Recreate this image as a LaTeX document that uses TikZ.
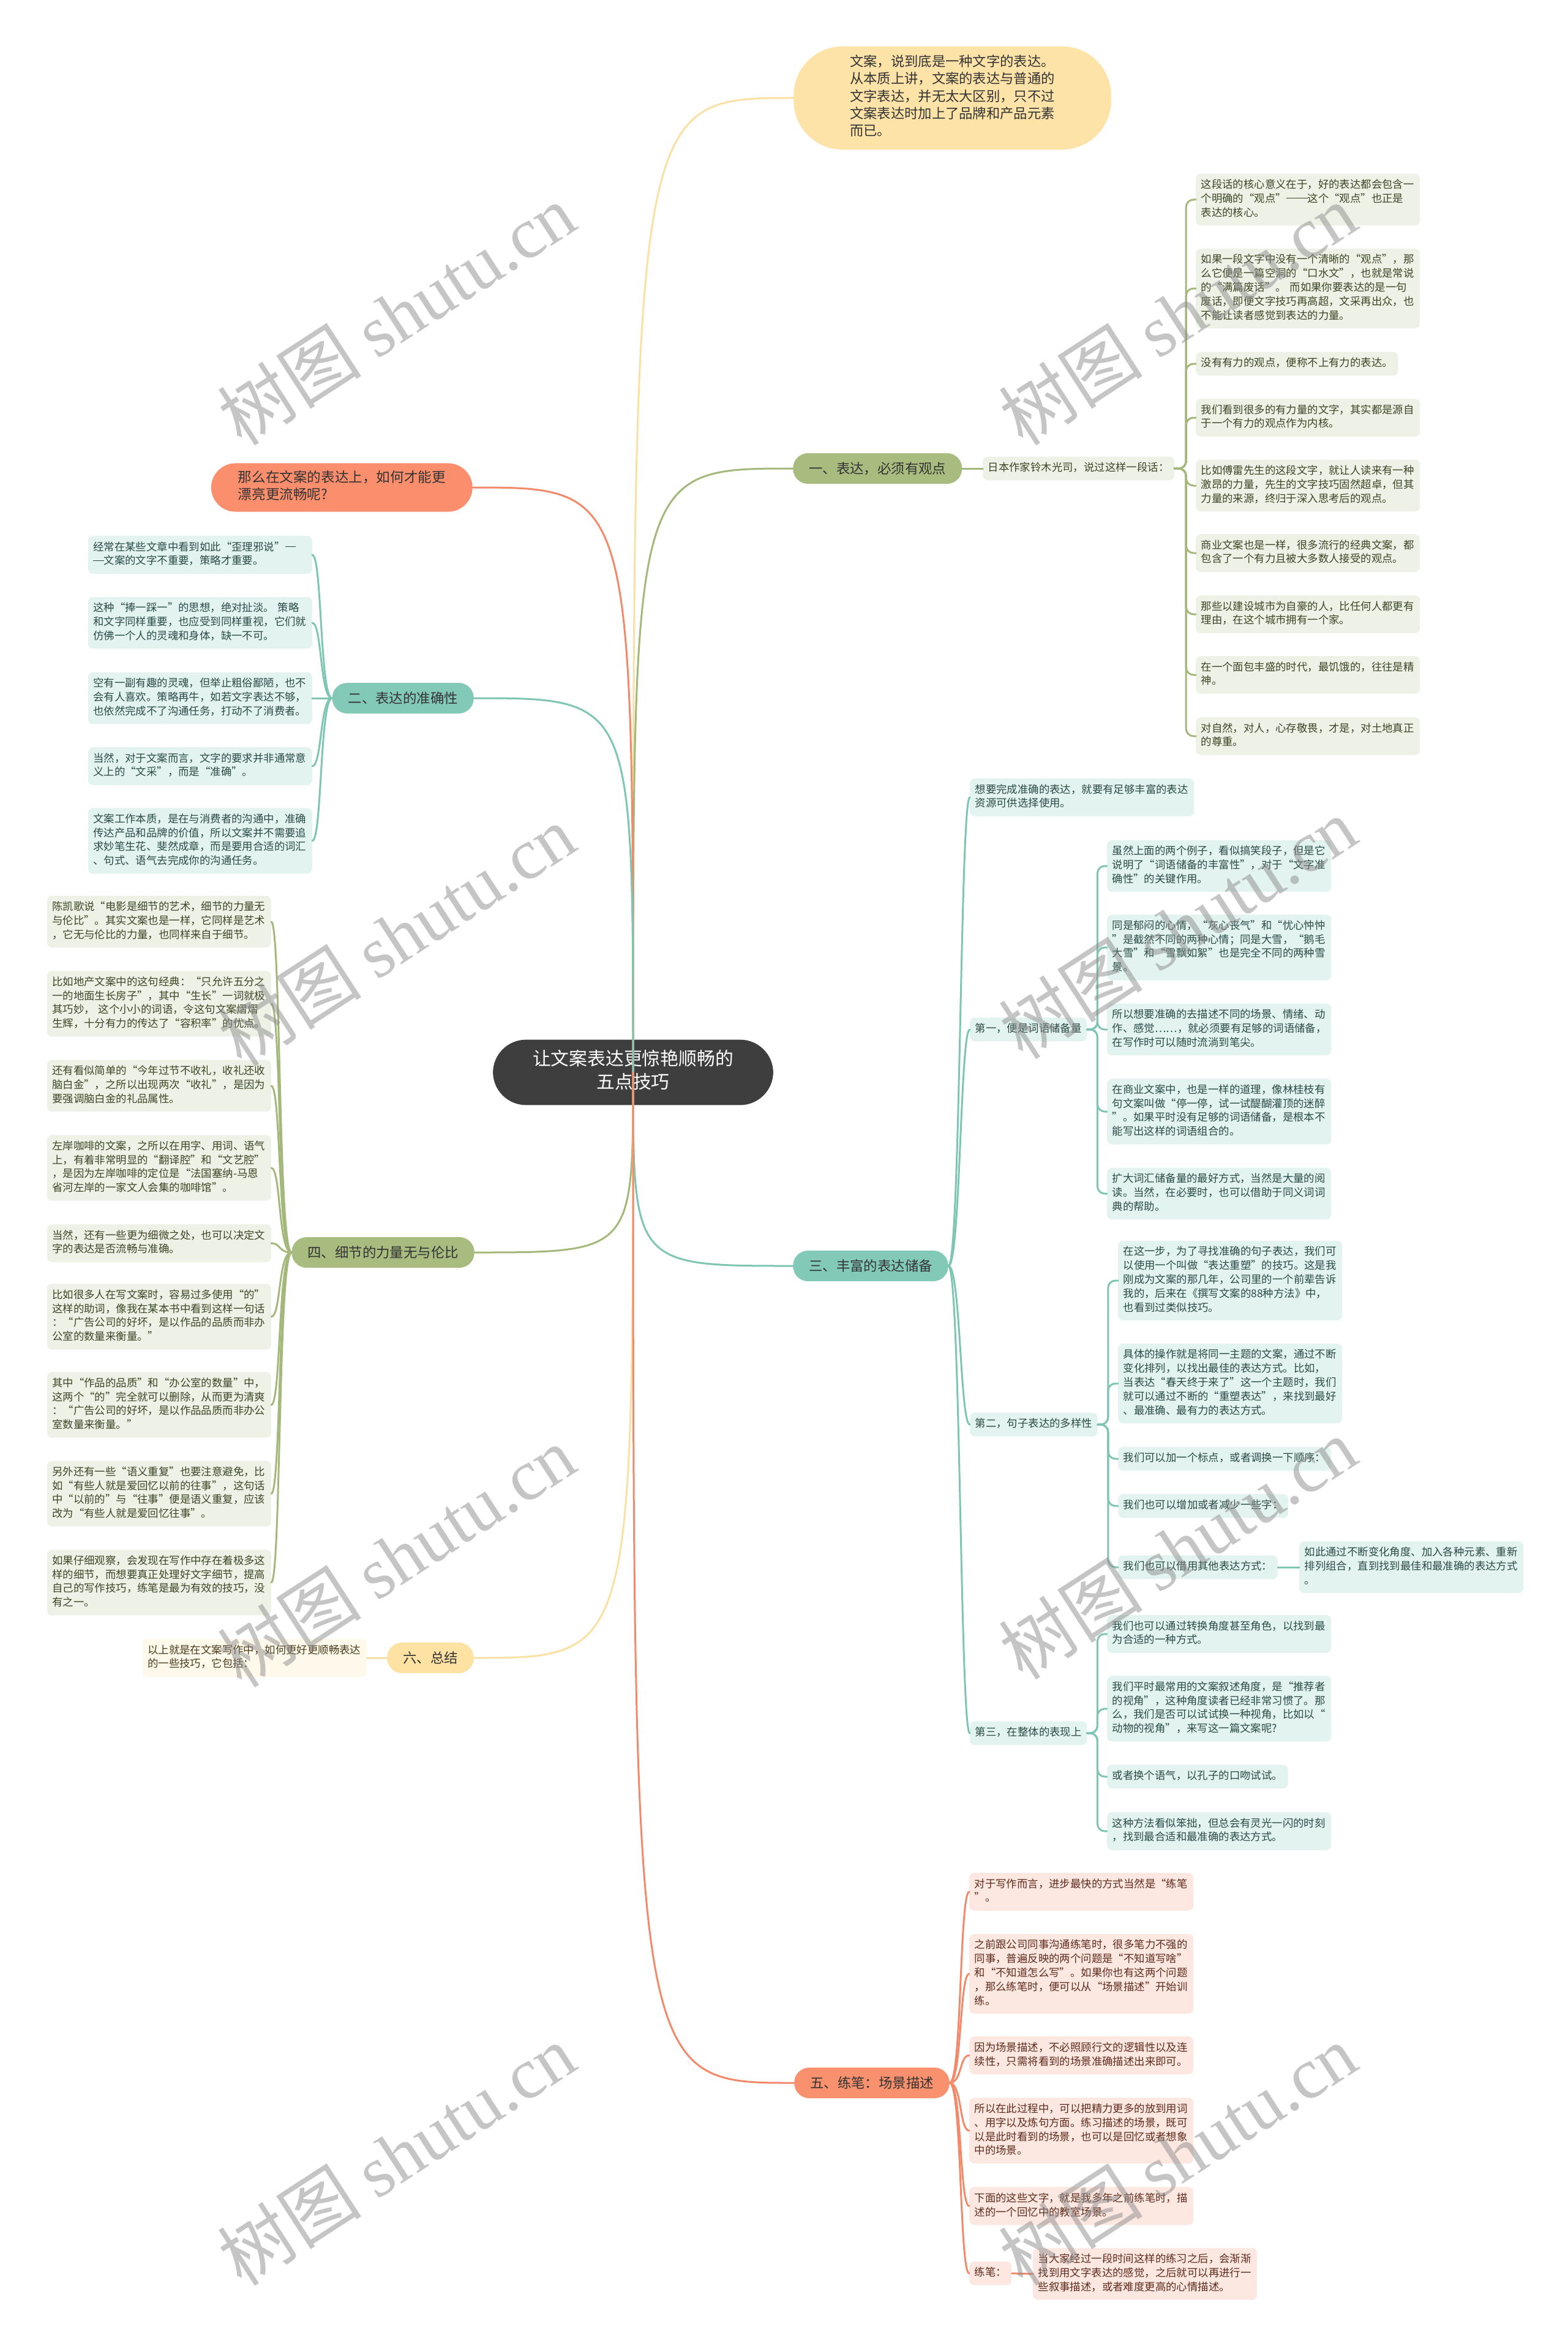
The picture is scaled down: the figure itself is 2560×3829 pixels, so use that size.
\documentclass[tikz,border=0pt]{standalone}
\usepackage{fontspec}
\setmainfont{Noto Sans CJK SC}
\newfontfamily\latf{Noto Sans CJK SC}
\newcommand{\lat}[1]{{\latf #1}}
\newcommand{\qL}{\makebox[1em][r]{“}}
\newcommand{\qR}{\makebox[1em][l]{”}}
\newcommand{\dsh}{\makebox[1em][c]{\rule[0.36em]{1em}{0.06em}}}
\newfontfamily\wmserif{Liberation Serif}
\newfontfamily\wmcjk{Noto Sans CJK SC}
\definecolor{oline}{HTML}{A3B87A}
\definecolor{osec}{HTML}{A8BC80}
\definecolor{olf}{HTML}{EEF1E6}
\definecolor{olt}{HTML}{3C4526}
\definecolor{tline}{HTML}{7EC5B4}
\definecolor{tsec}{HTML}{83C9B8}
\definecolor{tlf}{HTML}{E3F3EF}
\definecolor{tlt}{HTML}{2A4A44}
\definecolor{sline}{HTML}{F2896A}
\definecolor{ssec}{HTML}{F9916F}
\definecolor{slf}{HTML}{FDE8E1}
\definecolor{slt}{HTML}{5E2A1C}
\definecolor{yline}{HTML}{FBE0A3}
\definecolor{ysec}{HTML}{FDE2A4}
\definecolor{ylf}{HTML}{FFF9EC}
\definecolor{ylt}{HTML}{4A3C1C}
\definecolor{rootfill}{HTML}{3E3E3E}
\definecolor{qfill}{HTML}{FB8E6D}
\definecolor{topfill}{HTML}{FDE3A8}
\definecolor{sect}{HTML}{333333}
\begin{document}
\begin{tikzpicture}[x=1pt,y=-1pt,
  leafbase/.style={rounded corners=8pt, inner xsep=8.5pt, inner ysep=8pt, align=left,
    font=\fontsize{17.4pt}{22.8pt}\selectfont, execute at begin node=\strut, execute at end node=\strut},
  oleaf1/.style={leafbase, fill=olf, text=olt},
  tleaf1/.style={leafbase, fill=tlf, text=tlt},
  sleaf1/.style={leafbase, fill=slf, text=slt},
  oleaf/.style={oleaf1, text width=349pt},
  tleaf/.style={tleaf1, text width=349pt},
  sleaf/.style={sleaf1, text width=349pt},
  yleaf/.style={leafbase, fill=ylf, text=ylt, text width=349pt},
  secbase/.style={rounded corners=24.5pt, minimum height=50pt, inner xsep=26pt, inner ysep=0pt,
    font=\fontsize{22.4pt}{28pt}\selectfont, text=sect},
  secO/.style={secbase, fill=osec},
  secT/.style={secbase, fill=tsec},
  secS/.style={secbase, fill=ssec},
  secY/.style={secbase, fill=ysec},
  rootn/.style={rounded corners=54pt, fill=rootfill, text=white, align=center, inner xsep=65pt, inner ysep=16pt,
    font=\fontsize{29.8pt}{38pt}\selectfont, execute at begin node=\strut, execute at end node=\strut},
  topn/.style={rounded corners=80pt, fill=topfill, text=sect, align=left, inner xsep=92pt, inner ysep=14pt,
    font=\fontsize{22.3pt}{28.3pt}\selectfont, execute at begin node=\strut, execute at end node=\strut},
  qn/.style={rounded corners=40pt, fill=qfill, text=sect, align=left, inner xsep=44pt, inner ysep=11.5pt,
    font=\fontsize{22.6pt}{28.5pt}\selectfont, execute at begin node=\strut, execute at end node=\strut},
  cn/.style={line width=3pt, line cap=round},
  elb/.style={cn, rounded corners=12pt},
  wm/.style={rotate=33, text=black!45, text opacity=0.5, inner sep=0pt}
]
\fill[white] (0,0) rectangle (2560,3829);
\useasboundingbox (0,0) rectangle (2560,3829);

% ---------- central and top nodes
\node[rootn] (root) at (1034,1751) {让文案表达更惊艳顺畅的\\五点技巧};
\node[topn, anchor=west] (top) at (1296,160) {文案，说到底是一种文字的表达。\\从本质上讲，文案的表达与普通的\\文字表达，并无太大区别，只不过\\文案表达时加上了品牌和产品元素\\而已。};
\node[qn, anchor=east] (q) at (772,796) {那么在文案的表达上，如何才能更\\漂亮更流畅呢\lat{?}};

% ---------- section 1
\node[secO, anchor=west] (s1) at (1295,765) {一、表达，必须有观点};
\node[oleaf1, anchor=west] (s1c) at (1605,765) {日本作家铃木光司，说过这样一段话：};
\node[oleaf, anchor=west] (a1) at (1953,326) {这段话的核心意义在于，好的表达都会包含一\\个明确的\qL{}观点\qR{}\dsh\dsh{}这个\qL{}观点\qR{}也正是\\表达的核心。};
\node[oleaf, anchor=west] (a2) at (1953,471) {如果一段文字中没有一个清晰的\qL{}观点\qR{}，那\\么它便是一篇空洞的\qL{}口水文\qR{}，也就是常说\\的\qL{}满篇废话\qR{}。 而如果你要表达的是一句\\废话，即便文字技巧再高超，文采再出众，也\\不能让读者感觉到表达的力量。};
\node[oleaf1, anchor=west] (a3) at (1953,594) {没有有力的观点，便称不上有力的表达。};
\node[oleaf, anchor=west] (a4) at (1953,682) {我们看到很多的有力量的文字，其实都是源自\\于一个有力的观点作为内核。};
\node[oleaf, anchor=west] (a5) at (1953,793) {比如傅雷先生的这段文字，就让人读来有一种\\激昂的力量，先生的文字技巧固然超卓，但其\\力量的来源，终归于深入思考后的观点。};
\node[oleaf, anchor=west] (a6) at (1953,903) {商业文案也是一样，很多流行的经典文案，都\\包含了一个有力且被大多数人接受的观点。};
\node[oleaf, anchor=west] (a7) at (1953,1003) {那些以建设城市为自豪的人，比任何人都更有\\理由，在这个城市拥有一个家。};
\node[oleaf, anchor=west] (a8) at (1953,1102) {在一个面包丰盛的时代，最饥饿的，往往是精\\神。};
\node[oleaf, anchor=west] (a9) at (1953,1202) {对自然，对人，心存敬畏，才是，对土地真正\\的尊重。};

% ---------- section 2
\node[secT, anchor=east] (s2) at (774,1140) {二、表达的准确性};
\node[tleaf, anchor=east] (b1) at (510,906) {经常在某些文章中看到如此\qL{}歪理邪说\qR{}\dsh\\\dsh{}文案的文字不重要，策略才重要。};
\node[tleaf, anchor=east] (b2) at (510,1017) {这种\qL{}捧一踩一\qR{}的思想，绝对扯淡。 策略\\和文字同样重要，也应受到同样重视，它们就\\仿佛一个人的灵魂和身体，缺一不可。};
\node[tleaf, anchor=east] (b3) at (510,1140) {空有一副有趣的灵魂，但举止粗俗鄙陋，也不\\会有人喜欢。策略再牛，如若文字表达不够，\\也依然完成不了沟通任务，打动不了消费者。};
\node[tleaf, anchor=east] (b4) at (510,1251) {当然，对于文案而言，文字的要求并非通常意\\义上的\qL{}文采\qR{}，而是\qL{}准确\qR{}。};
\node[tleaf, anchor=east] (b5) at (510,1373) {文案工作本质，是在与消费者的沟通中，准确\\传达产品和品牌的价值，所以文案并不需要追\\求妙笔生花、斐然成章，而是要用合适的词汇\\、句式、语气去完成你的沟通任务。};

% ---------- section 4
\node[secO, anchor=east] (s4) at (775,2045) {四、细节的力量无与伦比};
\node[oleaf, anchor=east] (d1) at (443,1505) {陈凯歌说\qL{}电影是细节的艺术，细节的力量无\\与伦比\qR{}。其实文案也是一样，它同样是艺术\\，它无与伦比的力量，也同样来自于细节。};
\node[oleaf, anchor=east] (d2) at (443,1639) {比如地产文案中的这句经典：\qL{}只允许五分之\\一的地面生长房子\qR{}，其中\qL{}生长\qR{}一词就极\\其巧妙， 这个小小的词语，令这句文案熠熠\\生辉，十分有力的传达了\qL{}容积率\qR{}的优点。};
\node[oleaf, anchor=east] (d3) at (443,1773) {还有看似简单的\qL{}今年过节不收礼，收礼还收\\脑白金\qR{}，之所以出现两次\qL{}收礼\qR{}，是因为\\要强调脑白金的礼品属性。};
\node[oleaf, anchor=east] (d4) at (443,1907) {左岸咖啡的文案，之所以在用字、用词、语气\\上，有着非常明显的\qL{}翻译腔\qR{}和\qL{}文艺腔\qR{}\\，是因为左岸咖啡的定位是\qL{}法国塞纳\lat{-}马恩\\省河左岸的一家文人会集的咖啡馆\qR{}。};
\node[oleaf, anchor=east] (d5) at (443,2030) {当然，还有一些更为细微之处，也可以决定文\\字的表达是否流畅与准确。};
\node[oleaf, anchor=east] (d6) at (443,2150) {比如很多人在写文案时，容易过多使用\qL{}的\qR{}\\这样的助词，像我在某本书中看到这样一句话\\：\qL{}广告公司的好坏，是以作品的品质而非办\\公室的数量来衡量。\qR{}};
\node[oleaf, anchor=east] (d7) at (443,2294) {其中\qL{}作品的品质\qR{}和\qL{}办公室的数量\qR{}中，\\这两个\qL{}的\qR{}完全就可以删除，从而更为清爽\\：\qL{}广告公司的好坏，是以作品品质而非办公\\室数量来衡量。\qR{}};
\node[oleaf, anchor=east] (d8) at (443,2439) {另外还有一些\qL{}语义重复\qR{}也要注意避免，比\\如\qL{}有些人就是爱回忆以前的往事\qR{}，这句话\\中\qL{}以前的\qR{}与\qL{}往事\qR{}便是语义重复，应该\\改为\qL{}有些人就是爱回忆往事\qR{}。};
\node[oleaf, anchor=east] (d9) at (443,2584) {如果仔细观察，会发现在写作中存在着极多这\\样的细节，而想要真正处理好文字细节，提高\\自己的写作技巧，练笔是最为有效的技巧，没\\有之一。};

% ---------- section 6
\node[secY, anchor=east] (s6) at (774,2707) {六、总结};
\node[yleaf, anchor=east] (f1) at (599,2707) {以上就是在文案写作中，如何更好更顺畅表达\\的一些技巧，它包括：};

% ---------- section 3
\node[secT, anchor=west] (s3) at (1295,2067) {三、丰富的表达储备};
\node[tleaf, anchor=west] (c0) at (1584,1302) {想要完成准确的表达，就要有足够丰富的表达\\资源可供选择使用。};
\node[tleaf1, anchor=west] (cb) at (1584,1681) {第一，便是词语储备量};
\node[tleaf, anchor=west] (cb1) at (1808,1414) {虽然上面的两个例子，看似搞笑段子，但是它\\说明了\qL{}词语储备的丰富性\qR{}，对于\qL{}文字准\\确性\qR{}的关键作用。};
\node[tleaf, anchor=west] (cb2) at (1808,1547) {同是郁闷的心情，\qL{}灰心丧气\qR{}和\qL{}忧心忡忡\\\qR{}是截然不同的两种心情；同是大雪，\qL{}鹅毛\\大雪\qR{}和\qL{}雪飘如絮\qR{}也是完全不同的两种雪\\景。};
\node[tleaf, anchor=west] (cb3) at (1808,1681) {所以想要准确的去描述不同的场景、情绪、动\\作、感觉……，就必须要有足够的词语储备，\\在写作时可以随时流淌到笔尖。};
\node[tleaf, anchor=west] (cb4) at (1808,1815) {在商业文案中，也是一样的道理，像林桂枝有\\句文案叫做\qL{}停一停，试一试醍醐灌顶的迷醉\\\qR{}。如果平时没有足够的词语储备，是根本不\\能写出这样的词语组合的。};
\node[tleaf, anchor=west] (cb5) at (1808,1949) {扩大词汇储备量的最好方式，当然是大量的阅\\读。当然，在必要时，也可以借助于同义词词\\典的帮助。};
\node[tleaf1, anchor=west] (cc) at (1584,2326) {第二，句子表达的多样性};
\node[tleaf, anchor=west] (cc1) at (1826,2091) {在这一步，为了寻找准确的句子表达，我们可\\以使用一个叫做\qL{}表达重塑\qR{}的技巧。这是我\\刚成为文案的那几年，公司里的一个前辈告诉\\我的，后来在《撰写文案的\lat{88}种方法》中，\\也看到过类似技巧。};
\node[tleaf, anchor=west] (cc2) at (1826,2259) {具体的操作就是将同一主题的文案，通过不断\\变化排列，以找出最佳的表达方式。比如，\\当表达\qL{}春天终于来了\qR{}这一个主题时，我们\\就可以通过不断的\qL{}重塑表达\qR{}，来找到最好\\、最准确、最有力的表达方式。};
\node[tleaf1, anchor=west] (cc3) at (1826,2382) {我们可以加一个标点，或者调换一下顺序：};
\node[tleaf1, anchor=west] (cc4) at (1826,2459) {我们也可以增加或者减少一些字：};
\node[tleaf1, anchor=west] (cc5) at (1826,2559) {我们也可以借用其他表达方式：};
\node[tleaf, anchor=west] (cc5a) at (2122,2559) {如此通过不断变化角度、加入各种元素、重新\\排列组合，直到找到最佳和最准确的表达方式\\。};
\node[tleaf1, anchor=west] (cd) at (1584,2830) {第三，在整体的表现上};
\node[tleaf, anchor=west] (cd1) at (1808,2668) {我们也可以通过转换角度甚至角色，以找到最\\为合适的一种方式。};
\node[tleaf, anchor=west] (cd2) at (1808,2790) {我们平时最常用的文案叙述角度，是\qL{}推荐者\\的视角\qR{}，这种角度读者已经非常习惯了。那\\么，我们是否可以试试换一种视角，比如以\qL{}\\动物的视角\qR{}，来写这一篇文案呢\lat{?}};
\node[tleaf1, anchor=west] (cd3) at (1808,2901) {或者换个语气，以孔子的口吻试试。};
\node[tleaf, anchor=west] (cd4) at (1808,2990) {这种方法看似笨拙，但总会有灵光一闪的时刻\\，找到最合适和最准确的表达方式。};

% ---------- section 5
\node[secS, anchor=west] (s5) at (1297,3401) {五、练笔：场景描述};
\node[sleaf, anchor=west] (e1) at (1583,3089) {对于写作而言，进步最快的方式当然是\qL{}练笔\\\qR{}。};
\node[sleaf, anchor=west] (e2) at (1583,3223) {之前跟公司同事沟通练笔时，很多笔力不强的\\同事，普遍反映的两个问题是\qL{}不知道写啥\qR{}\\和\qL{}不知道怎么写\qR{}。如果你也有这两个问题\\，那么练笔时，便可以从\qL{}场景描述\qR{}开始训\\练。};
\node[sleaf, anchor=west] (e3) at (1583,3356) {因为场景描述，不必照顾行文的逻辑性以及连\\续性，只需将看到的场景准确描述出来即可。};
\node[sleaf, anchor=west] (e4) at (1583,3479) {所以在此过程中，可以把精力更多的放到用词\\、用字以及炼句方面。练习描述的场景，既可\\以是此时看到的场景，也可以是回忆或者想象\\中的场景。};
\node[sleaf, anchor=west] (e5) at (1583,3602) {下面的这些文字，就是我多年之前练笔时，描\\述的一个回忆中的教室场景。};
\node[sleaf1, anchor=west] (e6) at (1583,3712) {练笔：};
\node[sleaf, anchor=west] (e6a) at (1687,3713) {当大家经过一段时间这样的练习之后，会渐渐\\找到用文字表达的感觉，之后就可以再进行一\\些叙事描述，或者难度更高的心情描述。};

% ---------- connectors from root
\draw[cn, yline] (root.center) .. controls (root.center |- top.west) .. (top.west);
\draw[cn, oline] (root.center) .. controls (root.center |- s1.west) .. (s1.west);
\draw[cn, sline] (root.center) .. controls (root.center |- q.east) .. (q.east);
\draw[cn, tline] (root.center) .. controls (root.center |- s2.east) .. (s2.east);
\draw[cn, tline] (root.center) .. controls (root.center |- s3.west) .. (s3.west);
\draw[cn, oline] (root.center) .. controls (root.center |- s4.east) .. (s4.east);
\draw[cn, yline] (root.center) .. controls (root.center |- s6.east) .. (s6.east);
\draw[cn, sline] (root.center) .. controls (root.center |- s5.west) .. (s5.west);

% ---------- section 1 connectors
\draw[cn, oline] (s1.east) -- (s1c.west);
\foreach \n in {a1,a2,a3,a4,a5,a6,a7,a8,a9}
  \draw[elb, oline] (s1c.east) -- ++(19,0) |- (\n.west);

% ---------- section 2 connectors
\foreach \n in {b1,b2,b3,b4,b5}
  \draw[cn, tline] (s2.west) .. controls +(-20,0) and +(16,0) .. (\n.east);

% ---------- section 4 connectors
\foreach \n in {d1,d2,d3,d4,d5,d6,d7,d8,d9}
  \draw[cn, oline] (s4.west) .. controls +(-22,0) and +(16,0) .. (\n.east);

% ---------- section 6
\draw[cn, yline] (s6.west) -- (f1.east);

% ---------- section 3 connectors
\foreach \n in {c0,cb,cc,cd}
  \draw[cn, tline] (s3.east) .. controls +(20,0) and +(-16,0) .. (\n.west);
\foreach \n in {cb1,cb2,cb3,cb4,cb5}
  \draw[elb, tline] (cb.east) -- ++(17,0) |- (\n.west);
\foreach \n in {cc1,cc2,cc3,cc4,cc5}
  \draw[elb, tline] (cc.east) -- ++(17,0) |- (\n.west);
\draw[cn, tline] (cc5.east) -- (cc5a.west);
\foreach \n in {cd1,cd2,cd3,cd4}
  \draw[elb, tline] (cd.east) -- ++(17,0) |- (\n.west);

% ---------- section 5 connectors
\foreach \n in {e1,e2,e3,e4,e5,e6}
  \draw[cn, sline] (s5.east) .. controls +(20,0) and +(-16,0) .. (\n.west);
\draw[cn, sline] (e6.east) -- (e6a.west);

% ---------- watermarks
\foreach \wx/\wy [count=\i] in {647/513, 1923/513, 647/1527, 1923/1515, 647/2541, 1923/2528, 647/3518, 1923/3518}
  \node[wm] (wm\i) at (\wx,\wy) {\fontsize{118pt}{120pt}\selectfont{\wmcjk 树图} {\wmserif shutu.cn}};
\end{tikzpicture}
\end{document}
